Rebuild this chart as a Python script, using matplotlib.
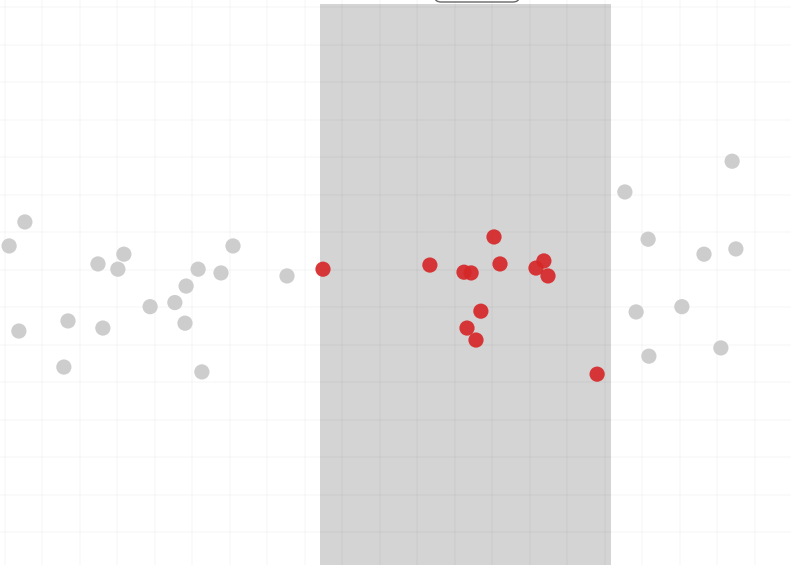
import matplotlib
matplotlib.use("Agg")
import matplotlib.pyplot as plt
from matplotlib.patches import FancyBboxPatch

# grey points (outside the selected range)
grey_x = [0.53, 0.11, 2.48, 3.17, 3.01, 3.87, 1.68, 0.37, 2.61, 1.57,
          6.08, 5.15, 5.76, 4.83, 4.53, 4.80, 5.25, 7.52,
          16.53, 19.39, 17.15, 18.64, 19.49, 16.83, 18.05, 17.17, 19.09]
grey_y = [8.27, 7.63, 7.15, 7.41, 7.01, 6.01, 5.63, 5.36, 5.44, 4.40,
          7.63, 7.01, 6.91, 6.56, 6.12, 5.57, 4.27, 6.83,
          9.07, 9.89, 7.81, 7.41, 7.55, 5.87, 6.01, 4.69, 4.91]

# red points (inside the selected range)
red_x = [8.48, 11.33, 12.24, 12.43, 13.04, 13.20, 14.16, 14.37, 14.48,
         12.69, 12.32, 12.56, 15.79]
red_y = [7.01, 7.12, 6.93, 6.91, 7.87, 7.15, 7.04, 7.23, 6.83,
         5.89, 5.44, 5.12, 4.21]

sel_lo, sel_hi = 8.4, 16.16

fig = plt.figure(figsize=(7.91, 5.65), dpi=100)
ax = fig.add_axes([0, 0, 1, 1])

ax.set_xlim(-0.133, 20.96)
ax.set_ylim(-0.88, 14.19)

ax.fill_between([sel_lo, sel_hi], -2, 14.08, color="#d4d4d4", zorder=1, linewidth=0)

ax.scatter(grey_x, grey_y, s=120, color="#cdcdcd", edgecolors="none", zorder=3)
ax.scatter(red_x, red_y, s=120, color="#d62728", alpha=0.92, edgecolors="none", zorder=4)

ax.set_xticks(range(0, 21))
ax.set_yticks(range(0, 15))
ax.grid(True, color="black", alpha=0.025, linewidth=1.2)
ax.set_axisbelow("line")
ax.tick_params(length=0, labelbottom=False, labelleft=False)
for s in ax.spines.values():
    s.set_visible(False)

# top label box, mostly outside the view
box = FancyBboxPatch((435 / 791, 1 - 2 / 565), 84 / 791, 0.04,
                     boxstyle="round,pad=0,rounding_size=0.008",
                     transform=ax.transAxes, facecolor="white",
                     edgecolor="#666666", linewidth=1, zorder=5, clip_on=False)
ax.add_patch(box)

fig.savefig("out.png", dpi=100)
